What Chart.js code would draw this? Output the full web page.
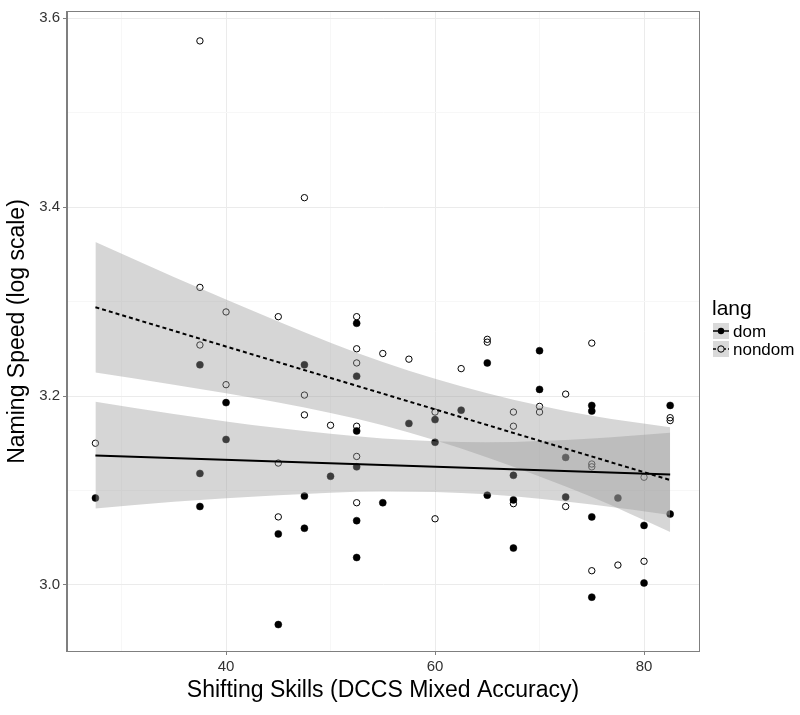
<!DOCTYPE html>
<html>
<head>
<meta charset="utf-8">
<script src="https://cdn.jsdelivr.net/npm/chart.js@4.4.0/dist/chart.umd.min.js"></script>
<style>
  html, body { margin: 0; padding: 0; background: #fff; }
  #wrap { width: 800px; height: 715px; }
</style>
</head>
<body>
<div id="wrap"><canvas id="c" width="800" height="715"></canvas></div>
<script>
/* ── data ── */

// dom (filled points)
const DOM_X = [27.5, 37.5, 37.5, 37.5, 40, 40, 45, 45, 47.5, 47.5, 47.5, 50,
  52.5, 52.5, 52.5, 52.5, 52.5, 52.5, 55, 57.5, 60, 60, 62.5, 65, 65,
  67.5, 67.5, 67.5, 70, 70, 72.5, 72.5, 75, 75, 75, 75, 77.5, 80, 80, 82.5, 82.5];
const DOM_Y = [3.092, 3.233, 3.118, 3.083, 3.193, 3.154, 3.054, 2.958, 3.233, 3.094, 3.060, 3.115,
  3.277, 3.221, 3.163, 3.125, 3.068, 3.029, 3.087, 3.171, 3.175, 3.151, 3.185, 3.235, 3.095,
  3.116, 3.090, 3.039, 3.248, 3.207, 3.135, 3.093, 3.190, 3.184, 3.072, 2.987, 3.092, 3.063, 3.002, 3.190, 3.075];

// nondom (open points)
const NONDOM_X = [27.5, 37.5, 37.5, 37.5, 40, 40, 45, 45, 45, 47.5, 47.5, 47.5, 50,
  52.5, 52.5, 52.5, 52.5, 52.5, 52.5, 55, 57.5, 60, 60, 62.5, 65, 65,
  67.5, 67.5, 67.5, 70, 70, 72.5, 72.5, 75, 75, 75, 75, 77.5, 80, 80, 82.5, 82.5];
const NONDOM_Y = [3.150, 3.576, 3.315, 3.254, 3.289, 3.212, 3.284, 3.129, 3.072, 3.410, 3.201, 3.180, 3.169,
  3.284, 3.250, 3.235, 3.168, 3.136, 3.087, 3.245, 3.239, 3.183, 3.070, 3.229, 3.260, 3.257,
  3.183, 3.168, 3.086, 3.189, 3.183, 3.202, 3.083, 3.256, 3.128, 3.125, 3.015, 3.021, 3.114, 3.025, 3.177, 3.174];

// fitted lines
const FIT_X      = [27.5, 82.5];
const DOM_FIT    = [3.137, 3.117];
const NONDOM_FIT = [3.294, 3.111];

// confidence bands
const BAND_X    = [27.5, 35, 45, 55, 65, 75, 82.5];
const DOM_LO    = [3.081, 3.088, 3.095, 3.099, 3.096, 3.085, 3.074];
const DOM_HI    = [3.194, 3.181, 3.166, 3.155, 3.151, 3.155, 3.161];
const NONDOM_LO = [3.225, 3.212, 3.193, 3.169, 3.135, 3.093, 3.056];
const NONDOM_HI = [3.363, 3.326, 3.279, 3.236, 3.203, 3.179, 3.167];

// axes
const X_TICKS = [30, 40, 50, 60, 70, 80];
const X_MAJOR = [40, 60, 80];
const Y_TICKS = [3.0, 3.1, 3.2, 3.3, 3.4, 3.5, 3.6];
const Y_MAJOR = [3.0, 3.2, 3.4, 3.6];

const LEGEND_TITLE = 'lang';
const LEGEND_LABELS = ['dom', 'nondom'];

/* ── helpers ── */
const pts = (xs, ys) => xs.map((x, i) => ({ x, y: ys[i] }));
const isMajor = (list, v) => list.some(m => Math.abs(m - v) < 1e-6);
const FONT = "'Liberation Sans', Arial, sans-serif";
const BAND = 'rgba(153,153,153,0.4)';

const band = (lo, hi) => [
  { type: 'line', data: pts(BAND_X, lo), borderWidth: 0, pointRadius: 0,
    cubicInterpolationMode: 'monotone', fill: false, order: 2 },
  { type: 'line', data: pts(BAND_X, hi), borderWidth: 0, pointRadius: 0,
    cubicInterpolationMode: 'monotone', fill: '-1', backgroundColor: BAND, order: 2 },
];

/* ── panel border + legend ── */
const extras = {
  id: 'extras',
  afterDraw(chart) {
    const { ctx, chartArea: a } = chart;
    ctx.save();
    ctx.strokeStyle = '#7f7f7f';
    ctx.lineWidth = 1;
    ctx.strokeRect(a.left - 0.5, a.top - 0.5, a.right - a.left + 1, a.bottom - a.top + 1);

    // legend
    const lx = 712, ly = 322, k = 18;
    ctx.fillStyle = '#000';
    ctx.font = `21px ${FONT}`;
    ctx.textBaseline = 'alphabetic';
    ctx.fillText(LEGEND_TITLE, lx, 315);
    LEGEND_LABELS.forEach((lab, i) => {
      const y0 = ly + i * k;
      ctx.fillStyle = '#d9d9d9';
      ctx.fillRect(lx, y0, k, k);
      ctx.strokeStyle = '#fff';
      ctx.lineWidth = 1;
      ctx.strokeRect(lx + 0.5, y0 + 0.5, k - 1, k - 1);
      const cy = y0 + k / 2;
      ctx.strokeStyle = '#000';
      ctx.lineWidth = 1.5;
      ctx.setLineDash(i === 0 ? [] : [3, 2]);
      ctx.beginPath(); ctx.moveTo(lx + 1, cy); ctx.lineTo(lx + k - 1, cy); ctx.stroke();
      ctx.setLineDash([]);
      ctx.beginPath(); ctx.arc(lx + k / 2, cy, 3.2, 0, Math.PI * 2);
      if (i === 0) { ctx.fillStyle = '#000'; ctx.fill(); }
      else { ctx.fillStyle = '#d9d9d9'; ctx.fill(); ctx.lineWidth = 1; ctx.stroke(); }
      ctx.fillStyle = '#000';
      ctx.font = `17px ${FONT}`;
      ctx.textBaseline = 'middle';
      ctx.fillText(lab, lx + k + 3, cy + 1);
    });
    ctx.restore();
  }
};

new Chart(document.getElementById('c'), {
  type: 'scatter',
  data: {
    datasets: [
      // points (bottom)
      { data: pts(DOM_X, DOM_Y), backgroundColor: '#000', borderColor: '#000',
        borderWidth: 0.5, pointRadius: 3.5, order: 3 },
      { data: pts(NONDOM_X, NONDOM_Y), backgroundColor: 'rgba(0,0,0,0)', borderColor: '#000',
        borderWidth: 1, pointRadius: 3.2, order: 3 },
      // ribbons
      ...band(DOM_LO, DOM_HI),
      ...band(NONDOM_LO, NONDOM_HI),
      // fit lines (top)
      { type: 'line', data: pts(FIT_X, DOM_FIT), borderColor: '#000', borderWidth: 2,
        pointRadius: 0, fill: false, order: 1 },
      { type: 'line', data: pts(FIT_X, NONDOM_FIT), borderColor: '#000', borderWidth: 2,
        borderDash: [4, 3], pointRadius: 0, fill: false, order: 1 },
    ]
  },
  options: {
    responsive: false,
    animation: false,
    devicePixelRatio: 1,
    layout: { padding: { top: 3, right: 101, left: 0, bottom: 0 } },
    plugins: { legend: { display: false }, tooltip: { enabled: false } },
    scales: {
      x: {
        type: 'linear', min: 24.78, max: 85.26,
        afterBuildTicks: s => { s.ticks = X_TICKS.map(v => ({ value: v })); },
        afterFit: s => { s.height = 64; },
        grid: {
          color: c => (c.tick && isMajor(X_MAJOR, c.tick.value)) ? '#ebebeb' : '#f7f7f7',
          tickColor: c => (c.tick && isMajor(X_MAJOR, c.tick.value)) ? '#7f7f7f' : 'rgba(0,0,0,0)',
          tickLength: 4,
        },
        border: { color: '#7f7f7f' },
        ticks: {
          padding: 3, color: '#333', font: { family: FONT, size: 15 },
          maxRotation: 0, autoSkip: false,
          callback: v => isMajor(X_MAJOR, v) ? String(v) : '',
        },
        title: { display: true, text: 'Shifting Skills (DCCS Mixed Accuracy)', color: '#000',
          font: { family: FONT, size: 23 }, padding: { top: 0, bottom: 11 } },
      },
      y: {
        type: 'linear', min: 2.930, max: 3.6066,
        afterBuildTicks: s => { s.ticks = Y_TICKS.map(v => ({ value: v })); },
        afterFit: s => { s.width = 67; },
        grid: {
          color: c => (c.tick && isMajor(Y_MAJOR, c.tick.value)) ? '#ebebeb' : '#f7f7f7',
          tickColor: c => (c.tick && isMajor(Y_MAJOR, c.tick.value)) ? '#7f7f7f' : 'rgba(0,0,0,0)',
          tickLength: 4,
        },
        border: { color: '#7f7f7f' },
        ticks: {
          padding: 3, color: '#333', font: { family: FONT, size: 15 }, autoSkip: false,
          callback: v => isMajor(Y_MAJOR, v) ? v.toFixed(1) : '',
        },
        title: { display: true, text: 'Naming Speed (log scale)', color: '#000',
          font: { family: FONT, size: 23 }, padding: { top: 4, bottom: 0 } },
      }
    }
  },
  plugins: [extras]
});
</script>
</body>
</html>
